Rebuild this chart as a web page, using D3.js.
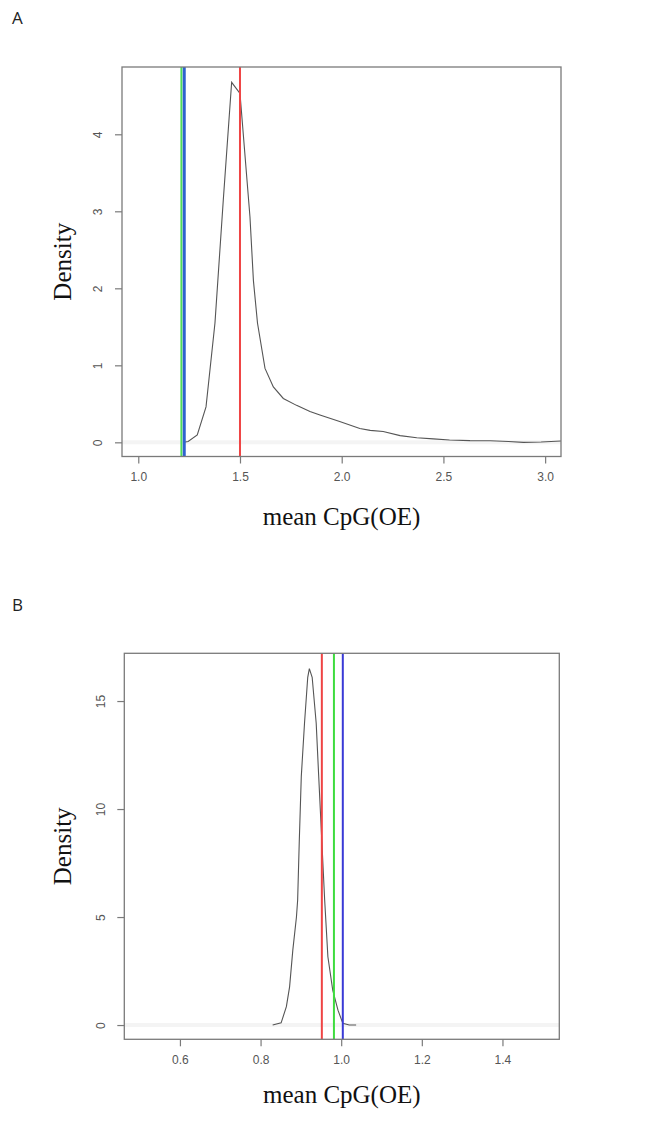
<!DOCTYPE html>
<html><head><meta charset="utf-8">
<script src="https://cdn.jsdelivr.net/npm/d3@7/dist/d3.min.js"></script>
<style>body{margin:0;background:#fff}svg{display:block}</style>
</head><body>
<svg id="c" width="659" height="1147"></svg>
<script>
// ---- Panel A data ----
const densA_x = [1.225,1.245,1.29,1.333,1.377,1.418,1.459,1.5,1.549,1.566,1.586,1.623,1.664,1.713,1.778,1.844,1.893,1.99,2.089,2.14,2.204,2.287,2.369,2.45,2.53,2.63,2.73,2.82,2.893,2.98,3.078];
const densA_y = [0.0,0.01,0.095,0.46,1.55,3.15,4.675,4.53,2.93,2.1,1.55,0.96,0.72,0.57,0.48,0.40,0.355,0.27,0.18,0.155,0.14,0.087,0.06,0.045,0.03,0.022,0.02,0.01,0.0,0.005,0.017];
const vlinesA = [{v:1.212,c:"#4fdc5a"},{v:1.226,c:"#2f62cf"},{v:1.5,c:"#ef4444"}];
const xTicksA = [1.0,1.5,2.0,2.5,3.0];
const yTicksA = [0,1,2,3,4];
// ---- Panel B data ----
const densB_x = [0.830,0.851,0.864,0.872,0.880,0.889,0.892,0.896,0.901,0.909,0.917,0.921,0.928,0.938,0.944,0.952,0.959,0.967,0.979,0.992,1.004,1.02,1.037];
const densB_y = [0.0,0.1,0.85,1.77,3.47,5.0,5.79,8.5,11.5,13.97,16.1,16.5,16.1,13.97,11.6,8.5,5.79,3.16,1.62,0.69,0.08,0.0,0.0];
const vlinesB = [{v:0.952,c:"#ef4444"},{v:0.982,c:"#3fdc3f"},{v:1.004,c:"#3a3ad6"}];
const xTicksB = [0.6,0.8,1.0,1.2,1.4];
const yTicksB = [0,5,10,15];
const labels = ["A","B"];
const xTitle = "mean CpG(OE)";
const yTitle = "Density";

const svg = d3.select("#c");

function panel(o){
  const g = svg.append("g");
  const x = d3.scaleLinear().domain(o.xd).range([o.L,o.R]);
  const y = d3.scaleLinear().domain(o.yd).range([o.B,o.T]);
  // panel letter
  g.append("text").attr("x",o.lx).attr("y",o.ly).text(o.label)
    .attr("font-family","Open Sans, Liberation Sans, sans-serif").attr("font-size",17).attr("fill","#222");
  // zero line
  g.append("line").attr("x1",o.L).attr("x2",o.R).attr("y1",y(0)).attr("y2",y(0))
    .attr("stroke","#f4f4f4").attr("stroke-width",4);
  // density
  const pts = o.dx.map((v,i)=>[v,o.dy[i]]);
  g.append("path").datum(pts)
    .attr("d",d3.line().x(d=>x(d[0])).y(d=>y(d[1])))
    .attr("fill","none").attr("stroke","#555").attr("stroke-width",1.1);
  // vertical lines
  o.vl.forEach(l=>{
    g.append("line").attr("x1",x(l.v)).attr("x2",x(l.v)).attr("y1",o.T).attr("y2",o.B)
      .attr("stroke",l.c).attr("stroke-width",l.w||2);
  });
  // box
  g.append("rect").attr("x",o.L).attr("y",o.T).attr("width",o.R-o.L).attr("height",o.B-o.T)
    .attr("fill","none").attr("stroke","#7a7a7a").attr("stroke-width",1.3);
  // x axis
  const xa = g.append("g").attr("transform",`translate(0,${o.B})`)
    .call(d3.axisBottom(x).tickValues(o.xt).tickFormat(d3.format(".1f")).tickSize(7).tickPadding(9));
  xa.select(".domain").remove();
  xa.selectAll("line").attr("stroke","#7a7a7a").attr("stroke-width",1.2);
  xa.selectAll("text").attr("fill","#555").attr("font-size",12)
    .attr("font-family","Liberation Sans, Arial, sans-serif");
  // y axis
  const ya = g.append("g").attr("transform",`translate(${o.L},0)`)
    .call(d3.axisLeft(y).tickValues(o.yt).tickFormat(d3.format("d")).tickSize(7).tickPadding(0));
  ya.select(".domain").remove();
  ya.selectAll("line").attr("stroke","#7a7a7a").attr("stroke-width",1.2);
  ya.selectAll("text").attr("fill","#555").attr("font-size",12)
    .attr("font-family","Liberation Sans, Arial, sans-serif")
    .attr("text-anchor","middle").attr("dy",null)
    .attr("x",0).attr("y",0)
    .attr("transform",`translate(${o.ylx - o.L},0) rotate(-90)`)
    .attr("dominant-baseline","central");
  // titles
  g.append("text").attr("x",(o.L+o.R)/2).attr("y",o.xty).attr("text-anchor","middle")
    .attr("font-family","Liberation Serif, Times New Roman, serif").attr("font-size",25).attr("fill","#111")
    .text(xTitle);
  g.append("text").attr("transform",`translate(${o.ytx},${(o.T+o.B)/2}) rotate(-90)`)
    .attr("text-anchor","middle")
    .attr("font-family","Liberation Serif, Times New Roman, serif").attr("font-size",25).attr("fill","#111")
    .text(yTitle);
}

panel({label:labels[0],lx:12,ly:24,L:122,R:561,T:67,B:456.5,
  xd:[0.92,3.078],yd:[-0.184,4.874],dx:densA_x,dy:densA_y,
  vl:[{v:vlinesA[0].v,c:vlinesA[0].c,w:2},{v:vlinesA[1].v,c:vlinesA[1].c,w:3},{v:vlinesA[2].v,c:vlinesA[2].c,w:2}],
  xt:xTicksA,yt:yTicksA,ylx:98,xty:525,ytx:71});
panel({label:labels[1],lx:12,ly:611,L:124.3,R:559.3,T:653.3,B:1039.3,
  xd:[0.462,1.541],yd:[-0.66,17.21],dx:densB_x,dy:densB_y,
  vl:vlinesB,xt:xTicksB,yt:yTicksB,ylx:101,xty:1103,ytx:71});
</script>
</body></html>
